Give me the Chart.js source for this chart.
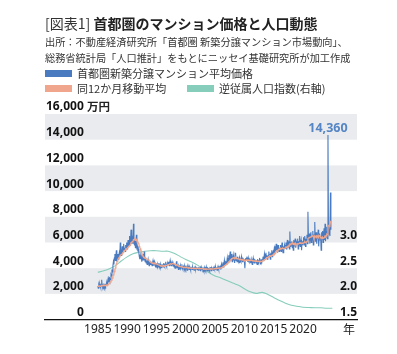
<!DOCTYPE html>
<html lang="ja">
<head>
<meta charset="utf-8">
<script src="https://cdn.jsdelivr.net/npm/chart.js@4.4.1/dist/chart.umd.min.js"></script>
<style>
  html, body { margin: 0; padding: 0; background: #fff; }
  #wrap { position: relative; width: 397px; height: 354px; font-family: "Noto Sans CJK JP", "Noto Sans", sans-serif; color: #222; }
  #chart { position: absolute; left: 0; top: 0; }
  .title { position: absolute; left: 45px; top: 14px; font-size: 14px; line-height: 18px; white-space: nowrap; font-weight: 700; }
  .title span { font-weight: 400; color: #333; }
  .source { position: absolute; left: 45px; top: 34px; font-size: 10.2px; line-height: 16px; white-space: nowrap; color: #333; }
  #legend { position: absolute; left: 45px; top: 66px; font-size: 11px; line-height: 15px; color: #333; }
  .item { position: absolute; white-space: nowrap; display: flex; align-items: center; }
  .swatch { display: inline-block; width: 27px; height: 7px; margin-right: 5px; }
</style>
</head>
<body>
<div id="wrap">
  <canvas id="chart" width="397" height="354"></canvas>
  <div class="title"><span>[図表1]</span> 首都圏のマンション価格と人口動態</div>
  <div class="source">出所：不動産経済研究所「首都圏 新築分譲マンション市場動向」、<br>総務省統計局「人口推計」をもとにニッセイ基礎研究所が加工作成</div>
  <div id="legend"></div>
</div>
<script>
// monthly series, starting Jan 1985
const startYear = 1985;

// 首都圏新築分譲マンション平均価格 (万円)
const price = [
  2600, 2450, 2700, 2550, 2800, 2650, 2500, 2750, 3100, 2600, 2550, 2700,
  2550, 2650, 2500, 2700, 2600, 2750, 2850, 2700, 2950, 3150, 2900, 3200,
  3000, 3200, 3100, 3500, 3400, 3900, 3700, 4200, 4500, 4300, 4800, 5100,
  4600, 4900, 5400, 4500, 4800, 5100, 4700, 5000, 5200, 4900, 6000, 5100,
  5000, 5300, 5700, 5200, 5500, 5900, 5400, 5600, 5300, 5800, 5500, 6000,
  5500, 5800, 6200, 5700, 5900, 6500, 5800, 6100, 7000, 5900, 6000, 6300,
  5900, 7460, 6000, 5800, 6200, 5600, 6000, 6600, 5600, 5700, 5300, 5500,
  5200, 4900, 4700, 5000, 4700, 4900, 4500, 4800, 4600, 5100, 4600, 5300,
  4700, 4500, 4800, 4400, 4600, 4300, 4500, 4700, 4400, 4200, 4500, 4300,
  4400, 4300, 4500, 4200, 4400, 4600, 4300, 4200, 4500, 4300, 4100, 4400,
  4200, 4100, 4300, 4000, 4200, 4400, 4100, 4000, 4300, 4100, 4200, 4000,
  4200, 4300, 4100, 4400, 4200, 4100, 4300, 4500, 4200, 4100, 4300, 4400,
  4300, 4500, 4200, 4400, 4600, 4300, 4200, 4400, 4500, 4300, 4400, 4200,
  4100, 4300, 4000, 4200, 4100, 4540, 4000, 4200, 4100, 3900, 4200, 4100,
  4000, 4200, 3900, 4100, 4300, 4000, 3900, 4100, 4000, 4200, 3950, 4100,
  3950, 4100, 4000, 3850, 4100, 3950, 4050, 3900, 4100, 4000, 3850, 4050,
  4000, 3900, 4100, 3950, 4050, 3850, 4000, 4100, 3900, 4050, 3950, 4000,
  3900, 4050, 3850, 4000, 3950, 4100, 3800, 4000, 3900, 4050, 3950, 3850,
  3950, 3800, 4050, 3900, 4000, 3850, 4100, 3900, 3800, 4000, 3950, 3900,
  4000, 3850, 3950, 4100, 3800, 4000, 3900, 4050, 3850, 4000, 4100, 3950,
  3900, 4100, 3950, 4050, 3850, 4000, 4150, 3900, 4100, 4000, 4200, 3950,
  4100, 4300, 4000, 4250, 4450, 4100, 4300, 4600, 4200, 4400, 4550, 4300,
  4500, 4800, 4400, 4700, 5000, 4500, 4900, 5300, 4600, 4800, 5100, 4500,
  4700, 5000, 4600, 4900, 4400, 4800, 5200, 4600, 4700, 4500, 4900, 4600,
  4500, 4700, 4400, 4800, 4600, 4500, 4900, 4700, 4500, 4800, 4600, 4700,
  4500, 4000, 4700, 4800, 4600, 4900, 4700, 4500, 4800, 4600, 4700, 4500,
  4600, 4400, 4700, 4500, 4300, 4600, 4800, 4500, 4400, 4700, 4500, 4600,
  4400, 4600, 4300, 4700, 4500, 4400, 4600, 4800, 4500, 4300, 4600, 4700,
  4500, 4700, 4900, 4600, 4800, 5100, 4700, 4900, 5200, 4800, 5000, 4700,
  4800, 5000, 5300, 4900, 5100, 4700, 5200, 5000, 5400, 4900, 5100, 5300,
  5200, 5500, 5100, 5700, 5300, 5900, 5400, 5600, 5200, 5800, 5500, 5300,
  5600, 5400, 5800, 5300, 5600, 6000, 5500, 5200, 5700, 5400, 5800, 5500,
  5700, 6000, 5500, 5900, 6200, 5600, 5800, 6100, 5500, 6850, 5700, 5900,
  5800, 6100, 5600, 6000, 5400, 6200, 5900, 5700, 6300, 5600, 5900, 6000,
  5900, 6300, 5500, 6100, 5800, 6500, 5700, 6000, 6200, 5400, 6100, 5800,
  6000, 6400, 5800, 6200, 6500, 5700, 6300, 6100, 6600, 5900, 8400, 6200,
  6300, 6700, 5900, 6400, 6800, 6000, 6500, 6200, 6900, 5800, 6400, 6600,
  7600, 6100, 6500, 6800, 5900, 6600, 6300, 7000, 5700, 6400, 6700, 6200,
  6500, 5400, 6800, 6300, 6900, 6000, 6600, 7100, 6200, 7460, 6100, 6700,
  6400, 7230, 6300, 14360, 7000, 6600, 6900, 6500, 9900, 7000
];

// 同12か月移動平均 (万円)
const movingAvg = [
  2600, 2590, 2610, 2600, 2620, 2620, 2610, 2620, 2660, 2660, 2650, 2663,
  2658, 2675, 2658, 2671, 2654, 2663, 2692, 2688, 2675, 2721, 2750, 2792,
  2829, 2875, 2925, 2992, 3058, 3154, 3225, 3350, 3479, 3575, 3733, 3892,
  4025, 4167, 4358, 4442, 4558, 4658, 4742, 4808, 4867, 4917, 5017, 5017,
  5050, 5083, 5108, 5167, 5225, 5292, 5350, 5400, 5408, 5483, 5442, 5517,
  5558, 5600, 5642, 5683, 5717, 5767, 5800, 5842, 5983, 5992, 6033, 6058,
  6092, 6230, 6213, 6222, 6247, 6172, 6188, 6230, 6113, 6097, 6038, 5972,
  5913, 5700, 5592, 5525, 5400, 5342, 5217, 5067, 4983, 4933, 4875, 4858,
  4817, 4783, 4792, 4742, 4733, 4683, 4683, 4675, 4658, 4583, 4575, 4492,
  4467, 4450, 4425, 4408, 4392, 4417, 4400, 4358, 4367, 4375, 4342, 4350,
  4333, 4317, 4300, 4283, 4267, 4250, 4233, 4217, 4200, 4183, 4192, 4158,
  4158, 4175, 4158, 4192, 4192, 4167, 4183, 4225, 4217, 4217, 4225, 4258,
  4267, 4283, 4292, 4292, 4325, 4342, 4333, 4325, 4350, 4367, 4375, 4358,
  4342, 4325, 4308, 4292, 4250, 4270, 4253, 4237, 4203, 4170, 4153, 4145,
  4137, 4128, 4120, 4112, 4128, 4083, 4075, 4067, 4058, 4083, 4063, 4063,
  4058, 4050, 4058, 4038, 4021, 4017, 4029, 4013, 4021, 4004, 3996, 3992,
  3996, 3979, 3988, 3996, 3992, 3983, 3979, 3996, 3979, 3983, 3992, 3988,
  3979, 3992, 3971, 3975, 3967, 3988, 3971, 3963, 3963, 3963, 3963, 3950,
  3954, 3933, 3950, 3942, 3946, 3925, 3950, 3942, 3933, 3929, 3929, 3933,
  3938, 3942, 3933, 3950, 3933, 3946, 3929, 3942, 3946, 3946, 3958, 3963,
  3958, 3979, 3979, 3975, 3979, 3979, 3999, 3987, 4008, 4008, 4017, 4013,
  4029, 4046, 4050, 4067, 4117, 4125, 4138, 4196, 4204, 4238, 4267, 4296,
  4329, 4371, 4404, 4442, 4488, 4521, 4571, 4629, 4663, 4696, 4742, 4758,
  4775, 4792, 4808, 4825, 4775, 4800, 4825, 4767, 4775, 4750, 4733, 4742,
  4725, 4700, 4683, 4675, 4692, 4667, 4642, 4650, 4633, 4658, 4633, 4642,
  4642, 4583, 4608, 4608, 4608, 4642, 4625, 4608, 4633, 4617, 4625, 4608,
  4617, 4650, 4650, 4625, 4600, 4575, 4583, 4583, 4550, 4558, 4542, 4550,
  4533, 4550, 4517, 4533, 4550, 4533, 4517, 4542, 4550, 4517, 4525, 4533,
  4542, 4550, 4600, 4592, 4617, 4675, 4683, 4692, 4750, 4792, 4825, 4825,
  4850, 4875, 4908, 4933, 4958, 4925, 4967, 4975, 4992, 5000, 5008, 5058,
  5092, 5133, 5117, 5183, 5200, 5300, 5317, 5367, 5350, 5425, 5458, 5458,
  5492, 5483, 5542, 5508, 5533, 5542, 5550, 5517, 5558, 5525, 5550, 5567,
  5575, 5625, 5600, 5650, 5700, 5667, 5692, 5767, 5750, 5871, 5863, 5896,
  5904, 5913, 5921, 5929, 5863, 5913, 5921, 5888, 5954, 5850, 5867, 5875,
  5883, 5900, 5892, 5900, 5933, 5958, 5942, 5967, 5958, 5942, 5958, 5942,
  5950, 5958, 5983, 5992, 6050, 5983, 6033, 6042, 6075, 6117, 6308, 6342,
  6367, 6392, 6400, 6417, 6442, 6467, 6483, 6492, 6517, 6508, 6342, 6375,
  6483, 6433, 6483, 6517, 6442, 6492, 6475, 6542, 6442, 6492, 6517, 6483,
  6392, 6333, 6358, 6317, 6400, 6350, 6375, 6383, 6425, 6513, 6463, 6505,
  6497, 6649, 6608, 7279, 7288, 7338, 7363, 7313, 7621, 7583
];

// 逆従属人口指数 (annual, right axis)
const popYears = [
  1985, 1986, 1987, 1988, 1989, 1990, 1991, 1992, 1993, 1994,
  1995, 1996, 1997, 1998, 1999, 2000, 2001, 2002, 2003, 2004,
  2005, 2006, 2007, 2008, 2009, 2010, 2011, 2012, 2013, 2014,
  2015, 2016, 2017, 2018, 2019, 2020, 2021, 2022, 2023, 2024, 2025
];
const popIndex = [
  2.42, 2.45, 2.49, 2.55, 2.64, 2.72, 2.78, 2.81, 2.83, 2.84,
  2.84, 2.83, 2.83, 2.79, 2.73, 2.67, 2.62, 2.56, 2.49, 2.41,
  2.35, 2.31, 2.26, 2.21, 2.17, 2.10, 2.04, 2.01, 2.03, 1.99,
  1.93, 1.87, 1.82, 1.78, 1.76, 1.74, 1.735, 1.73, 1.73, 1.72, 1.72
];

const xTicks = [1985, 1990, 1995, 2000, 2005, 2010, 2015, 2020];
const leftTicks = [0, 2000, 4000, 6000, 8000, 10000, 12000, 14000, 16000];
const rightTicks = [1.5, 2.0, 2.5, 3.0];
const bandRanges = [[2000, 4000], [6000, 8000], [10000, 12000], [14000, 16000]];

const seriesNames = ['首都圏新築分譲マンション平均価格', '同12か月移動平均', '逆従属人口指数(右軸)'];
const colors = { price: '#4a7bc0', avg: '#f0a68c', pop: '#86cdbb', band: '#e9ebee', peak: '#5585c4' };

Chart.defaults.font.family = '"Noto Sans", "Noto Sans CJK JP", sans-serif';
Chart.defaults.color = '#222';

const toXY = (arr) => arr.map((v, i) => ({ x: startYear + i / 12, y: v }));

// grey bands behind the plot
const bandPlugin = {
  id: 'bands',
  beforeDraw(chart) {
    const { ctx, chartArea: a, scales: { y } } = chart;
    ctx.save();
    ctx.fillStyle = colors.band;
    bandRanges.forEach(([lo, hi]) => {
      const top = y.getPixelForValue(hi);
      const bottom = y.getPixelForValue(lo);
      ctx.fillRect(a.left, top, a.right - a.left, bottom - top);
    });
    ctx.restore();
  }
};

// peak value label, unit and year mark
const notesPlugin = {
  id: 'notes',
  afterDatasetsDraw(chart) {
    const { ctx, chartArea: a, scales: { y } } = chart;
    const meta = chart.getDatasetMeta(1);
    let peak = 0;
    price.forEach((v, i) => { if (v > price[peak]) peak = i; });
    const pt = meta.data[peak];
    ctx.save();
    ctx.font = 'bold 12.5px "Noto Sans", sans-serif';
    ctx.fillStyle = colors.peak;
    ctx.textAlign = 'center';
    ctx.textBaseline = 'middle';
    ctx.fillText(price[peak].toLocaleString('en-US'), pt.x, pt.y - 7);

    ctx.fillStyle = '#222';
    ctx.font = 'bold 11.5px "Noto Sans CJK JP", sans-serif';
    ctx.textAlign = 'left';
    ctx.fillText('万円', 87, y.getPixelForValue(16000) - 7);

    ctx.font = '12px "Noto Sans CJK JP", sans-serif';
    ctx.textAlign = 'right';
    ctx.fillText('年', a.right - 2, a.bottom + 10);
    ctx.restore();
  }
};

const chart = new Chart(document.getElementById('chart'), {
  type: 'line',
  data: {
    datasets: [
      { label: seriesNames[1], data: toXY(movingAvg), borderColor: colors.avg, backgroundColor: colors.avg, borderWidth: 1.3, yAxisID: 'y', order: 0 },
      { label: seriesNames[0], data: toXY(price), borderColor: colors.price, backgroundColor: colors.price, borderWidth: 1.1, yAxisID: 'y', order: 1 },
      { label: seriesNames[2], data: popYears.map((yr, i) => ({ x: yr, y: popIndex[i] })), borderColor: colors.pop, backgroundColor: colors.pop, borderWidth: 1.1, tension: 0.3, yAxisID: 'y2', order: 2 }
    ]
  },
  options: {
    responsive: false,
    animation: false,
    parsing: false,
    elements: { point: { radius: 0 }, line: { tension: 0 } },
    layout: { padding: { left: 43, right: 40, top: 114, bottom: 15 } },
    plugins: { legend: { display: false }, tooltip: { enabled: false } },
    scales: {
      x: {
        type: 'linear',
        min: 1976,
        max: 2029.2,
        afterBuildTicks: (axis) => { axis.ticks = xTicks.map(v => ({ value: v })); },
        ticks: { autoSkip: false, maxRotation: 0, minRotation: 0, padding: 2.5, color: '#222', font: { size: 12 }, callback: v => String(v) },
        grid: { display: false, drawTicks: false },
        border: { display: true, color: '#111', width: 1.3 }
      },
      y: {
        position: 'left',
        min: 0,
        max: 16000,
        afterBuildTicks: (axis) => { axis.ticks = leftTicks.map(v => ({ value: v })); },
        ticks: { mirror: true, crossAlign: 'far', padding: 1, labelOffset: -7, color: '#111', font: { size: 12, weight: 'bold' }, callback: v => v.toLocaleString('en-US') },
        grid: { display: false, drawTicks: false },
        border: { display: false }
      },
      y2: {
        position: 'right',
        min: 1.5,
        max: 5.5,
        afterBuildTicks: (axis) => { axis.ticks = rightTicks.map(v => ({ value: v })); },
        ticks: { mirror: true, padding: 0, labelOffset: -7, color: '#111', font: { size: 12, weight: 'bold' }, callback: v => v.toFixed(1) },
        grid: { display: false, drawTicks: false },
        border: { display: false }
      }
    }
  },
  plugins: [bandPlugin, notesPlugin]
});

// html legend, two rows like the original
const legend = document.getElementById('legend');
const legendPos = [[0, 0], [0, 15], [142, 15]];
[1, 0, 2].forEach((dsIndex, k) => {
  const ds = chart.data.datasets[dsIndex];
  const item = document.createElement('div');
  item.className = 'item';
  item.style.left = legendPos[k][0] + 'px';
  item.style.top = legendPos[k][1] + 'px';
  item.innerHTML = `<span class="swatch" style="background:${ds.borderColor}"></span>${ds.label}`;
  legend.appendChild(item);
});
</script>
</body>
</html>
